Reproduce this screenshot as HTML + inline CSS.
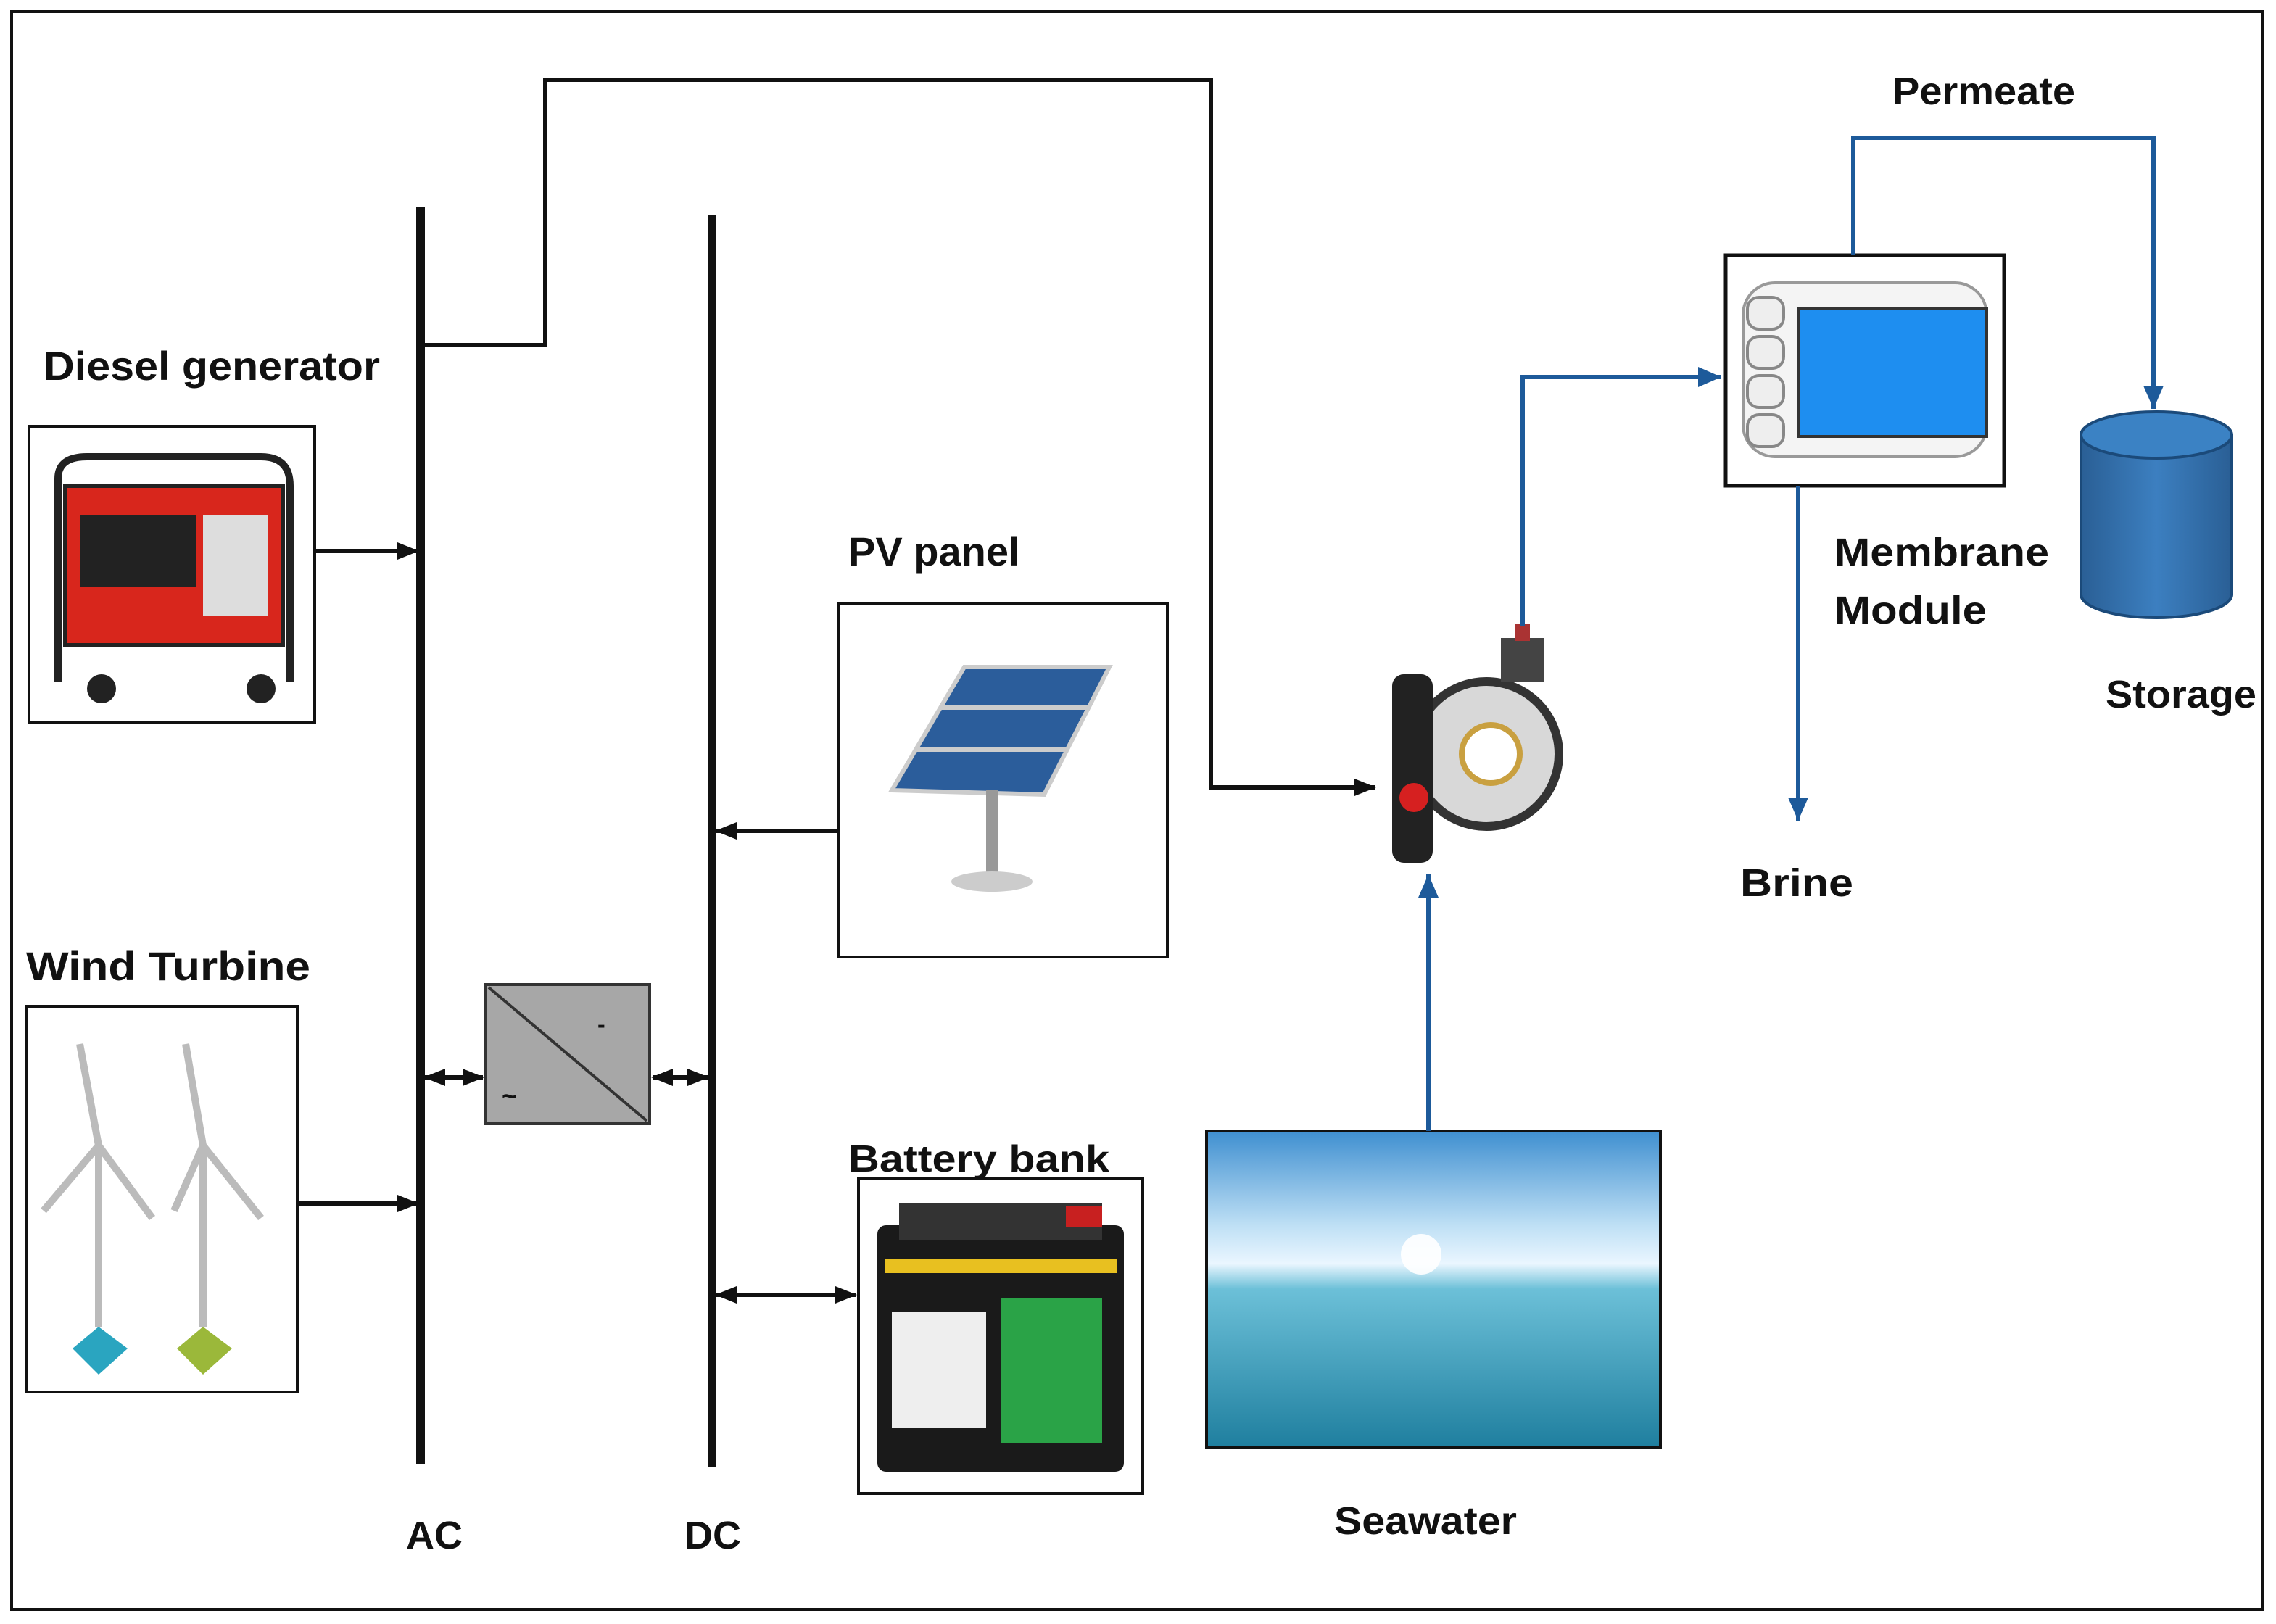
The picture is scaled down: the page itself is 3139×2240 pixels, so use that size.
<!DOCTYPE html>
<html><head><meta charset="utf-8"><style>
html,body{margin:0;padding:0;background:#fff}
svg{display:block}
text{font-family:"Liberation Sans",sans-serif;font-weight:bold;fill:#111}
</style></head><body>
<svg width="3139" height="2240" viewBox="0 0 1569.5 1120" xmlns="http://www.w3.org/2000/svg">
<defs>
<marker id="ak" markerWidth="15" markerHeight="14" refX="14" refY="7" orient="auto-start-reverse" markerUnits="userSpaceOnUse"><path d="M0,1 L15,7 L0,13 z" fill="#111"/></marker>
<marker id="ab" markerWidth="17" markerHeight="16" refX="16" refY="8" orient="auto-start-reverse" markerUnits="userSpaceOnUse"><path d="M0,1 L16,8 L0,15 z" fill="#1d5a9a"/></marker>
<linearGradient id="sea" x1="0" y1="0" x2="0" y2="1">
<stop offset="0" stop-color="#3f8fd0"/><stop offset="0.3" stop-color="#bfe0f5"/><stop offset="0.42" stop-color="#eaf6ff"/><stop offset="0.5" stop-color="#6cc0d8"/><stop offset="1" stop-color="#1f7f9f"/></linearGradient>
<linearGradient id="cyl" x1="0" y1="0" x2="1" y2="0"><stop offset="0" stop-color="#2a5f95"/><stop offset="0.5" stop-color="#3c7fc0"/><stop offset="1" stop-color="#2a5f95"/></linearGradient>
</defs>
<rect x="0" y="0" width="1569.5" height="1120" fill="#fff"/>
<rect x="8" y="8" width="1552" height="1102" fill="none" stroke="#111" stroke-width="2"/>

<line x1="290" y1="143" x2="290" y2="1010" stroke="#111" stroke-width="6"/>
<line x1="491" y1="148" x2="491" y2="1012" stroke="#111" stroke-width="6"/>
<text x="280" y="1068" font-size="27">AC</text>
<text x="472" y="1068" font-size="27">DC</text>

<polyline points="290,238 376,238 376,55 835,55 835,543 948,543" fill="none" stroke="#111" stroke-width="3" marker-end="url(#ak)"/>

<text x="30" y="262" font-size="28" textLength="232" lengthAdjust="spacingAndGlyphs">Diesel generator</text>
<rect x="20" y="294" width="197" height="204" fill="#fff" stroke="#111" stroke-width="2"/>
<rect x="45" y="335" width="150" height="110" fill="#d8261c" stroke="#222" stroke-width="3"/>
<rect x="55" y="355" width="80" height="50" fill="#222"/>
<rect x="140" y="355" width="45" height="70" fill="#ddd"/>
<path d="M40,330 Q40,315 60,315 L180,315 Q200,315 200,335 L200,470 M40,330 L40,470" fill="none" stroke="#222" stroke-width="5"/>
<circle cx="70" cy="475" r="10" fill="#222"/><circle cx="180" cy="475" r="10" fill="#222"/>
<line x1="217" y1="380" x2="288" y2="380" stroke="#111" stroke-width="3" marker-end="url(#ak)"/>

<text x="18" y="676" font-size="28" textLength="196" lengthAdjust="spacingAndGlyphs">Wind Turbine</text>
<rect x="18" y="694" width="187" height="266" fill="#fff" stroke="#111" stroke-width="2"/>
<g stroke="#bbb" stroke-width="5" fill="none">
<line x1="68" y1="790" x2="68" y2="915"/><line x1="140" y1="790" x2="140" y2="915"/>
<line x1="68" y1="790" x2="55" y2="720"/><line x1="68" y1="790" x2="30" y2="835"/><line x1="68" y1="790" x2="105" y2="840"/>
<line x1="140" y1="790" x2="128" y2="720"/><line x1="140" y1="790" x2="120" y2="835"/><line x1="140" y1="790" x2="180" y2="840"/>
</g>
<path d="M50,930 L68,915 L88,930 L68,948 z" fill="#2aa5c0"/>
<path d="M122,930 L140,915 L160,930 L140,948 z" fill="#9bb83a"/>
<line x1="205" y1="830" x2="288" y2="830" stroke="#111" stroke-width="3" marker-end="url(#ak)"/>

<rect x="335" y="679" width="113" height="96" fill="#a7a7a7" stroke="#333" stroke-width="2"/>
<line x1="337" y1="681" x2="446" y2="773" stroke="#333" stroke-width="2"/>
<text x="412" y="712" font-size="16">-</text>
<text x="346" y="762" font-size="18">~</text>
<line x1="293" y1="743" x2="333" y2="743" stroke="#111" stroke-width="3" marker-start="url(#ak)" marker-end="url(#ak)"/>
<line x1="450" y1="743" x2="488" y2="743" stroke="#111" stroke-width="3" marker-start="url(#ak)" marker-end="url(#ak)"/>

<text x="585" y="390" font-size="28">PV panel</text>
<rect x="578" y="416" width="227" height="244" fill="#fff" stroke="#111" stroke-width="2"/>
<path d="M615,545 L665,460 L765,460 L720,548 z" fill="#2b5d9b" stroke="#ccc" stroke-width="3"/>
<line x1="632" y1="517" x2="735" y2="517" stroke="#ccc" stroke-width="3"/>
<line x1="648" y1="488" x2="750" y2="488" stroke="#ccc" stroke-width="3"/>
<rect x="680" y="545" width="8" height="60" fill="#999"/>
<ellipse cx="684" cy="608" rx="28" ry="7" fill="#ccc"/>
<line x1="578" y1="573" x2="494" y2="573" stroke="#111" stroke-width="3" marker-end="url(#ak)"/>

<text x="585" y="808" font-size="26" textLength="180" lengthAdjust="spacingAndGlyphs">Battery  bank</text>
<rect x="592" y="813" width="196" height="217" fill="#fff" stroke="#111" stroke-width="2"/>
<rect x="605" y="845" width="170" height="170" rx="6" fill="#1a1a1a"/>
<rect x="620" y="830" width="140" height="25" fill="#333"/>
<rect x="610" y="868" width="160" height="10" fill="#e8c020"/>
<rect x="690" y="895" width="70" height="100" fill="#2aa347"/>
<rect x="615" y="905" width="65" height="80" fill="#eee"/>
<rect x="735" y="832" width="25" height="14" fill="#c82020"/>
<line x1="494" y1="893" x2="590" y2="893" stroke="#111" stroke-width="3" marker-start="url(#ak)" marker-end="url(#ak)"/>

<rect x="832" y="780" width="313" height="218" fill="url(#sea)" stroke="#111" stroke-width="2"/>
<circle cx="980" cy="865" r="14" fill="#fff" opacity="0.9"/>
<text x="920" y="1058" font-size="27" textLength="126" lengthAdjust="spacingAndGlyphs">Seawater</text>
<line x1="985" y1="780" x2="985" y2="603" stroke="#1d5a9a" stroke-width="3" marker-end="url(#ab)"/>

<circle cx="1025" cy="520" r="50" fill="#d8d8d8" stroke="#333" stroke-width="6"/>
<circle cx="1028" cy="520" r="20" fill="#fff" stroke="#c9a040" stroke-width="4"/>
<rect x="960" y="465" width="28" height="130" rx="8" fill="#222"/>
<circle cx="975" cy="550" r="10" fill="#d62020"/>
<rect x="1035" y="440" width="30" height="30" fill="#444"/>
<rect x="1045" y="430" width="10" height="12" fill="#a33"/>

<polyline points="1050,432 1050,260 1187,260" fill="none" stroke="#1d5a9a" stroke-width="3" marker-end="url(#ab)"/>
<rect x="1190" y="176" width="192" height="159" fill="#fff" stroke="#111" stroke-width="2.5"/>
<rect x="1202" y="195" width="168" height="120" rx="22" fill="#f4f4f4" stroke="#999" stroke-width="2"/>
<rect x="1240" y="213" width="130" height="88" fill="#1e8ef0" stroke="#333" stroke-width="2"/>
<g fill="#eee" stroke="#888" stroke-width="2">
<rect x="1205" y="205" width="25" height="22" rx="8"/><rect x="1205" y="232" width="25" height="22" rx="8"/><rect x="1205" y="259" width="25" height="22" rx="8"/><rect x="1205" y="286" width="25" height="22" rx="8"/></g>
<text x="1265" y="390" font-size="27" textLength="148" lengthAdjust="spacingAndGlyphs">Membrane</text>
<text x="1265" y="430" font-size="27" textLength="105" lengthAdjust="spacingAndGlyphs">Module</text>

<polyline points="1278,176 1278,95 1485,95 1485,282" fill="none" stroke="#1d5a9a" stroke-width="3" marker-end="url(#ab)"/>
<text x="1305" y="72" font-size="27" textLength="126" lengthAdjust="spacingAndGlyphs">Permeate</text>

<line x1="1240" y1="335" x2="1240" y2="566" stroke="#1d5a9a" stroke-width="3" marker-end="url(#ab)"/>
<text x="1200" y="618" font-size="27" textLength="78" lengthAdjust="spacingAndGlyphs">Brine</text>

<path d="M1435,300 L1435,410 A52,16 0 0 0 1539,410 L1539,300 z" fill="url(#cyl)" stroke="#1b4a7a" stroke-width="2"/>
<ellipse cx="1487" cy="300" rx="52" ry="16" fill="#3b82c4" stroke="#1b4a7a" stroke-width="2"/>
<text x="1452" y="488" font-size="27" textLength="104" lengthAdjust="spacingAndGlyphs">Storage</text>
</svg>
</body></html>
